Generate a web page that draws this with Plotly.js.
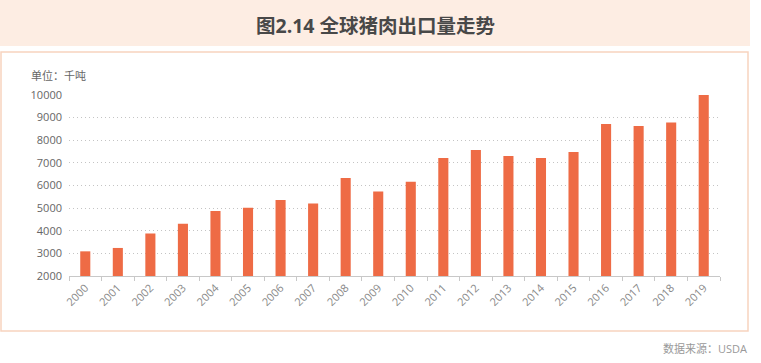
<!DOCTYPE html>
<html><head><meta charset="utf-8">
<script src="https://cdn.plot.ly/plotly-3.0.1.min.js"></script>
<style>html,body{margin:0;padding:0;background:#fff;}#chart{width:761px;height:363px;}</style>
</head><body><div id="chart"></div>
<script>
const years = ['2000','2001','2002','2003','2004','2005','2006','2007','2008','2009','2010','2011','2012','2013','2014','2015','2016','2017','2018','2019'];
const exportsKt = [3090,3240,3880,4310,4870,5020,5360,5200,6330,5730,6170,7210,7570,7300,7210,7480,8720,8630,8790,10000];
const yTicks = [2000,3000,4000,5000,6000,7000,8000,9000,10000];
const titleText = '图2.14 全球猪肉出口量走势';
const unitText = '单位：千吨';
const sourceText = '数据来源：USDA';

const L=69, R=720, T=95, B=276;
const W=R-L, H=B-T;
const px = x => (x-L)/W;
const py = y => (B-y)/H;
const font = 'Open Sans, Noto Sans CJK SC, sans-serif';

const data = [{
  type:'bar', x: years, y: exportsKt,
  marker:{color:'#EE6B45'}, hoverinfo:'x+y'
}];
const layout = {
  width:761, height:363,
  margin:{l:L, r:761-R, t:T, b:363-B, pad:0},
  paper_bgcolor:'#fff', plot_bgcolor:'rgba(0,0,0,0)',
  bargap:0.69, showlegend:false,
  font:{family:font, color:'#666', size:11},
  xaxis:{type:'category', tickangle:-45, tickfont:{size:11, color:'#888'},
    showline:true, linecolor:'#c8c8c8', linewidth:1.3, ticks:'outside', tickson:'boundaries',
    ticklen:4, tickcolor:'#c8c8c8', showgrid:false, fixedrange:true},
  yaxis:{range:[2000,10000], tickvals:yTicks, ticktext:yTicks.map(String),
    showgrid:true, gridcolor:'#c4c4c4', griddash:'1px,3px', gridwidth:1, zeroline:false,
    showline:false, ticks:'', tickfont:{size:11, color:'#666'}, ticklabelstandoff:6, fixedrange:true},
  shapes:[
    {type:'rect', xref:'paper', yref:'paper', x0:px(0), x1:px(750), y0:py(46), y1:py(0),
      fillcolor:'#FDEDE3', line:{width:0}, layer:'below'},
    {type:'rect', xref:'paper', yref:'paper', x0:px(1), x1:px(748), y0:py(331), y1:py(52),
      fillcolor:'rgba(0,0,0,0)', line:{color:'#F8D3BF', width:1.5}, layer:'below'}
  ],
  annotations:[
    {xref:'paper', yref:'paper', x:px(375), y:py(25), text:'<b>'+titleText+'</b>', showarrow:false,
      xanchor:'center', yanchor:'middle', font:{size:19.5, color:'#484848', family:font}},
    {xref:'paper', yref:'paper', x:px(29), y:py(76), text:unitText, showarrow:false,
      xanchor:'left', yanchor:'middle', font:{size:11, color:'#666', family:font}},
    {xref:'paper', yref:'paper', x:px(749), y:py(348), text:sourceText, showarrow:false,
      xanchor:'right', yanchor:'middle', font:{size:11, color:'#999', family:font}}
  ]
};
Plotly.newPlot('chart', data, layout, {displayModeBar:false, staticPlot:true});
</script></body></html>
